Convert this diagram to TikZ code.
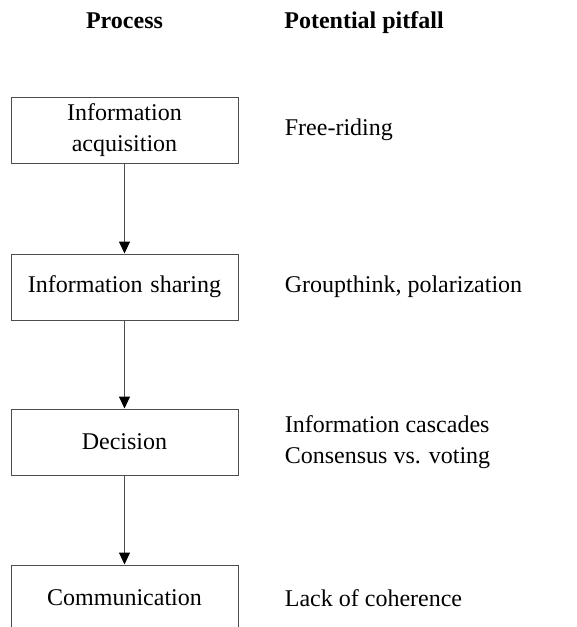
\documentclass[tikz,border=0pt]{standalone}
\usepackage{fontspec}
\setmainfont{Liberation Serif}
\usepackage{tikz}
\usetikzlibrary{positioning}
\usetikzlibrary{arrows.meta}

\begin{document}
\begin{tikzpicture}[
    font=\fontsize{12}{15.5}\selectfont,
    node distance=45pt,
    procbox/.style={draw=black!70, line width=0.5pt, minimum width=113.5pt, minimum height=33pt, text width=105pt, align=center, inner sep=0pt},
    pitfall/.style={inner sep=0pt, align=left, anchor=west},
    header/.style={font=\fontsize{12}{15.5}\selectfont\bfseries, inner sep=0pt, anchor=base},
    flow/.style={draw=black!70, line width=0.5pt, -{Triangle[length=6pt,width=5.5pt,fill=black,color=black]}}
  ]
    \useasboundingbox (0,0) rectangle (288.5pt,-313.5pt);

    \node[header] (hproc) at (62.25pt,-14pt) {Process};
    \node[header, anchor=base west] (hpit) at (142pt,-14pt) {Potential pitfall};

    \node[procbox] (acq) at (62.25pt,-65pt) {Information\\acquisition};
    \node[procbox, below=45pt of acq] (share) {Information sharing};
    \node[procbox, below=44pt of share] (dec) {Decision};
    \node[procbox, below=44.5pt of dec] (comm) {Communication};

    \node[pitfall, right=23pt of acq] (pacq) {Free-riding};
    \node[pitfall, right=23pt of share] (pshare) {Groupthink, polarization};
    \node[pitfall, right=23pt of dec] (pdec) {Information cascades\\Consensus vs. voting};
    \node[pitfall, right=23pt of comm] (pcomm) {Lack of coherence};

    \draw[flow] (acq) -- (share);
    \draw[flow] (share) -- (dec);
    \draw[flow] (dec) -- (comm);
\end{tikzpicture}
\end{document}
